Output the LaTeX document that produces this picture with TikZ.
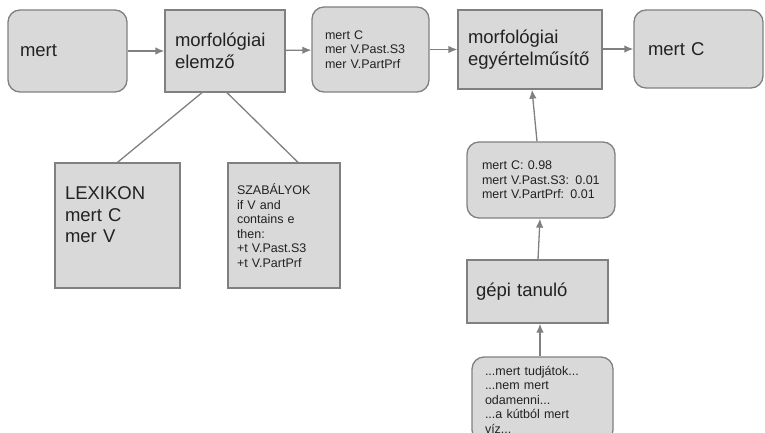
\documentclass[tikz,border=0pt]{standalone}
\usepackage{fontspec}
\setmainfont{Liberation Sans}
\usetikzlibrary{arrows.meta}
\definecolor{boxfill}{HTML}{D9D9D9}
\definecolor{boxline}{HTML}{808080}
\definecolor{txt}{HTML}{222222}
\tikzset{
  base/.style={draw=boxline, fill=boxfill, line width=1.3pt, text=txt, align=left,
    inner ysep=2pt, anchor=center},
  rbox/.style={base, rounded corners=12pt},
  sbox/.style={base},
  big/.style={font=\fontsize{18.5}{21.5}\selectfont},
  small/.style={font=\fontsize{12.5}{14.5}\selectfont},
  dims/.style args={#1/#2/#3}{minimum width=#1pt, minimum height=#2pt,
    inner xsep=#3pt, text width=#1pt-2*#3pt},
  conn/.style={draw=boxline, line width=1.3pt},
  arr/.style={conn, -{Latex[length=9pt,width=7.5pt]}},
}
\begin{document}
\begin{tikzpicture}[x=1pt,y=-1pt]
\clip (0,0) rectangle (765,433);
\node[rbox, big, dims=119/82/12] (mert) at (67.5,51) {mert};
\node[sbox, big, dims=120/82/10] (morf1) at (225,51) {morfológiai\\elemző};
\node[rbox, small, dims=117/85/13] (cand) at (370.5,49.5) {mert C\\mer V.Past.S3\\mer V.PartPrf};
\node[sbox, big, dims=144/79/10] (morf2) at (530,49.5) {morfológiai\\egyértelműsítő};
\node[rbox, big, dims=129/78/14] (final) at (698.5,49) {mert C};
\node[sbox, big, dims=125/125/10] (lex) at (117.5,225.5) {LEXIKON\\mert C\\mer V\\\mbox{}};
\node[sbox, small, dims=112/125/9] (rules) at (284,225.5) {SZABÁLYOK\\if V and\\contains e\\then:\\+t V.Past.S3\\+t V.PartPrf};
\node[rbox, small, dims=148/76/15] (prob) at (541,180) {mert C: 0.98\\mert V.Past.S3: 0.01\\mert V.PartPrf: 0.01};
\node[sbox, big, dims=141/63/9] (gepi) at (537.5,291.5) {gépi tanuló};
\node[rbox, small, dims=141/85/13] (corpus) at (542.5,399.5) {...mert tudjátok...\\...nem mert\\odamenni...\\...a kútból mert\\víz...};

\draw[arr] (mert) -- (morf1);
\draw[arr] (morf1) -- (cand);
\draw[arr] (cand.east) -- (morf2.west |- cand.east);
\draw[arr] (morf2.east |- final.west) -- (final.west);
\draw[conn] ([xshift=-23pt]morf1.south) -- (lex.north);
\draw[conn] ([xshift=2pt]morf1.south) -- ([xshift=14pt]rules.north);
\draw[arr] ([xshift=-4pt]prob.north) -- ([xshift=2pt]morf2.south);
\draw[arr] ([xshift=0.5pt]gepi.north) -- ([xshift=-1pt]prob.south);
\draw[arr] ([xshift=-2.5pt]corpus.north) -- ([xshift=2.5pt]gepi.south);
\end{tikzpicture}
\end{document}
